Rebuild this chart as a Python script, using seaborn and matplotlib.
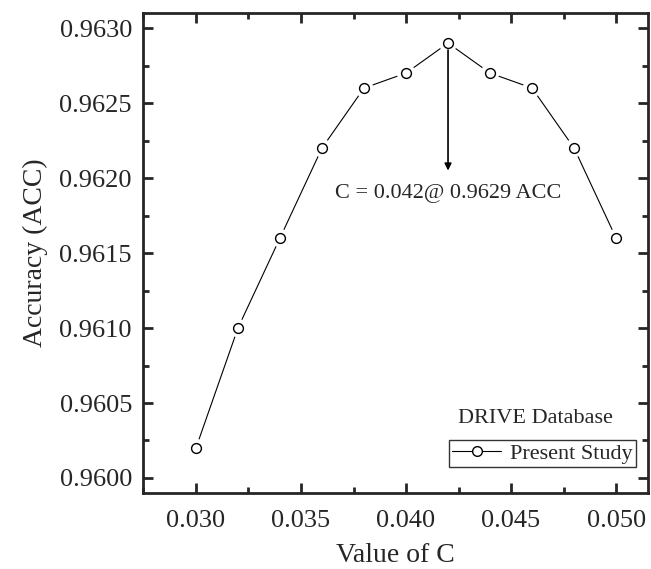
import pandas as pd
import matplotlib
matplotlib.use("Agg")
import matplotlib.pyplot as plt
import seaborn as sns
from matplotlib.ticker import MultipleLocator, FormatStrFormatter

# Data
c_values = [0.030, 0.032, 0.034, 0.036, 0.038, 0.040, 0.042, 0.044, 0.046, 0.048, 0.050]
accuracy = [0.9602, 0.9610, 0.9616, 0.9622, 0.9626, 0.9627, 0.9629, 0.9627, 0.9626, 0.9622, 0.9616]
best_c = 0.042
best_acc = 0.9629

df = pd.DataFrame({"C": c_values, "ACC": accuracy})

sns.set_style("ticks")
plt.rcParams['font.family'] = ['Liberation Serif', 'DejaVu Serif']

fig = plt.figure(figsize=(6.51, 5.69), dpi=100)
ax = fig.add_axes([0.2197, 0.1336, 0.7757, 0.8434])

# line with open circles (Origin style, line broken at the markers)
sns.lineplot(
    data=df, x="C", y="ACC", ax=ax,
    color="black", linewidth=0.8,
    marker="o", markersize=7, markerfacecolor="white",
    markeredgecolor="black", markeredgewidth=1.0,
    label="Present Study", zorder=2
)
sns.scatterplot(data=df, x="C", y="ACC", ax=ax, s=180, color="white",
                edgecolor="none", zorder=3, legend=False)
sns.scatterplot(data=df, x="C", y="ACC", ax=ax, s=50, color="white",
                edgecolor="black", linewidth=1.0, zorder=4, legend=False)

ax.set_xlim(0.02748, 0.05152)
ax.set_ylim(0.95990, 0.96310)

ax.xaxis.set_major_locator(MultipleLocator(0.005))
ax.xaxis.set_minor_locator(MultipleLocator(0.0025))
ax.yaxis.set_major_locator(MultipleLocator(0.0005))
ax.yaxis.set_minor_locator(MultipleLocator(0.00025))
ax.xaxis.set_major_formatter(FormatStrFormatter("%.3f"))
ax.yaxis.set_major_formatter(FormatStrFormatter("%.4f"))

ax.tick_params(which="both", direction="in", top=True, right=True, width=2,
               labeltop=False, labelright=False)
ax.tick_params(which="major", length=7, labelsize=19)
ax.tick_params(which="minor", length=4)
ax.tick_params(axis="x", which="major", pad=12)
ax.tick_params(axis="y", which="major", pad=8)

for sp in ax.spines.values():
    sp.set_linewidth(2)
    sp.set_visible(True)

ax.set_xlabel("Value of C", fontsize=20)
ax.set_ylabel("Accuracy (ACC)", fontsize=20)
ax.xaxis.set_label_coords(0.5, -0.131)
ax.yaxis.set_label_coords(-0.214, 0.5)
ax.xaxis.label.set_va("center")
ax.yaxis.label.set_va("center")
ax.yaxis.label.set_ha("center")

# annotation arrow at the best point
ax.annotate(
    "", xy=(best_c, 0.96205), xytext=(best_c, best_acc),
    arrowprops=dict(arrowstyle="-|>", color="black", lw=1.2, mutation_scale=10,
                    shrinkA=5, shrinkB=0)
)
ax.text(best_c, 0.96190, f"C = {best_c:.3f}@ {best_acc:.4f} ACC",
        ha="center", va="center", fontsize=16)

leg = ax.legend(
    loc="lower right", bbox_to_anchor=(0.976, 0.054),
    fontsize=16, frameon=True, fancybox=False, edgecolor="black",
    handlelength=2.2, handletextpad=0.4, borderpad=0.15,
    borderaxespad=0.0
)
leg.get_frame().set_linewidth(1.0)
ax.text(0.778, 0.156, "DRIVE Database", transform=ax.transAxes,
        ha="center", va="center", fontsize=16)

fig.savefig("out.png", dpi=100)
